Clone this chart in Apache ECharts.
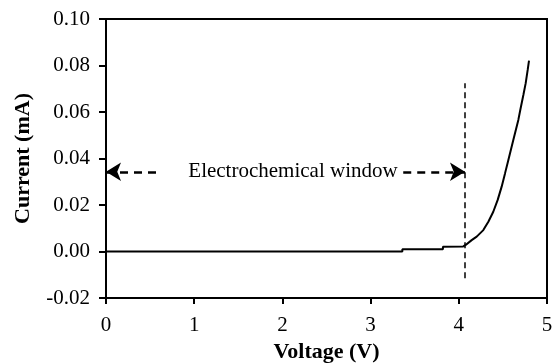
<!DOCTYPE html>
<html>
<head>
<meta charset="utf-8">
<script src="https://cdn.jsdelivr.net/npm/echarts@6/dist/echarts.min.js"></script>
<style>
  html, body { margin: 0; padding: 0; background: #fff; }
  #chart { width: 556px; height: 363px; }
</style>
</head>
<body>
<div id="chart"></div>
<script>
// Linear sweep voltammogram: current vs. voltage
const voltage = [0, 3.36, 3.36, 3.82, 3.82, 4.05, 4.078, 4.146, 4.203, 4.278, 4.335, 4.391, 4.441, 4.486, 4.524, 4.562, 4.618, 4.675, 4.701, 4.732, 4.758, 4.781, 4.796];
const current = [0, 0, 0.001, 0.001, 0.002, 0.0022, 0.0028, 0.0049, 0.0064, 0.0092, 0.0128, 0.0171, 0.0222, 0.0279, 0.0336, 0.0394, 0.0480, 0.0566, 0.0616, 0.0673, 0.0723, 0.0781, 0.0821];

// Oxidation limit marker and the window annotation
const limitVoltage = 4.07;
const limitLineRange = [-0.0115, 0.0724];
const arrowLevel = 0.0343;
const leftDashEnd = 0.6;
const rightDashStart = 3.37;
const windowLabel = 'Electrochemical window';
const windowLabelAt = 2.12;

const xTicks = { min: 0, max: 5, step: 1 };
const yTicks = { min: -0.02, max: 0.10, step: 0.02 };

const serif = "'Liberation Serif', 'Times New Roman', serif";

const chart = echarts.init(document.getElementById('chart'), null, { renderer: 'canvas' });

const points = voltage.map((v, i) => [v, current[i]]);
const arrowDash = { color: '#000', width: 2.5, type: [8, 6] };

chart.setOption({
  animation: false,
  backgroundColor: '#fff',
  grid: {
    left: 106, right: 9, top: 19, bottom: 65,
    outerBoundsMode: 'none',
    containLabel: false,
    show: true, borderColor: '#000', borderWidth: 2, backgroundColor: 'transparent'
  },
  xAxis: {
    type: 'value',
    min: xTicks.min, max: xTicks.max, interval: xTicks.step,
    name: 'Voltage (V)',
    nameLocation: 'middle',
    nameGap: 40,
    nameTextStyle: { fontFamily: serif, fontWeight: 'bold', fontSize: 22, color: '#000' },
    axisLine: { onZero: false, lineStyle: { color: '#000', width: 2 } },
    axisTick: { show: true, inside: false, length: 6, lineStyle: { color: '#000', width: 2 } },
    axisLabel: { margin: 17, fontFamily: serif, fontSize: 21, color: '#000' },
    splitLine: { show: false }
  },
  yAxis: {
    type: 'value',
    min: yTicks.min, max: yTicks.max, interval: yTicks.step,
    name: 'Current (mA)',
    nameLocation: 'middle',
    nameGap: 72,
    nameTextStyle: { fontFamily: serif, fontWeight: 'bold', fontSize: 22, color: '#000' },
    axisLine: { onZero: false, lineStyle: { color: '#000', width: 2 } },
    axisTick: { show: true, inside: false, length: 7, lineStyle: { color: '#000', width: 2 } },
    axisLabel: {
      margin: 16, fontFamily: serif, fontSize: 21, color: '#000',
      formatter: v => v.toFixed(2)
    },
    splitLine: { show: false }
  },
  series: [{
    type: 'line',
    data: points,
    showSymbol: false,
    symbol: 'none',
    lineStyle: { color: '#000', width: 2 },
    markLine: {
      silent: true,
      animation: false,
      symbol: ['none', 'none'],
      label: { show: false },
      data: [
        [
          { coord: [limitVoltage, limitLineRange[0]], lineStyle: { color: '#000', width: 1.5, type: [6, 4] } },
          { coord: [limitVoltage, limitLineRange[1]] }
        ],
        [
          { coord: [0, arrowLevel], symbol: 'arrow', symbolSize: [14, 15], lineStyle: arrowDash },
          { coord: [leftDashEnd, arrowLevel], symbol: 'none' }
        ],
        [
          { coord: [rightDashStart, arrowLevel], symbol: 'none', lineStyle: arrowDash },
          { coord: [limitVoltage, arrowLevel], symbol: 'arrow', symbolSize: [14, 15] }
        ]
      ]
    },
    markPoint: {
      silent: true,
      animation: false,
      symbol: 'circle',
      symbolSize: 0,
      data: [{
        coord: [windowLabelAt, arrowLevel],
        label: {
          show: true,
          position: 'inside',
          formatter: windowLabel,
          fontFamily: serif,
          fontSize: 21,
          color: '#000'
        }
      }]
    }
  }]
});
</script>
</body>
</html>
